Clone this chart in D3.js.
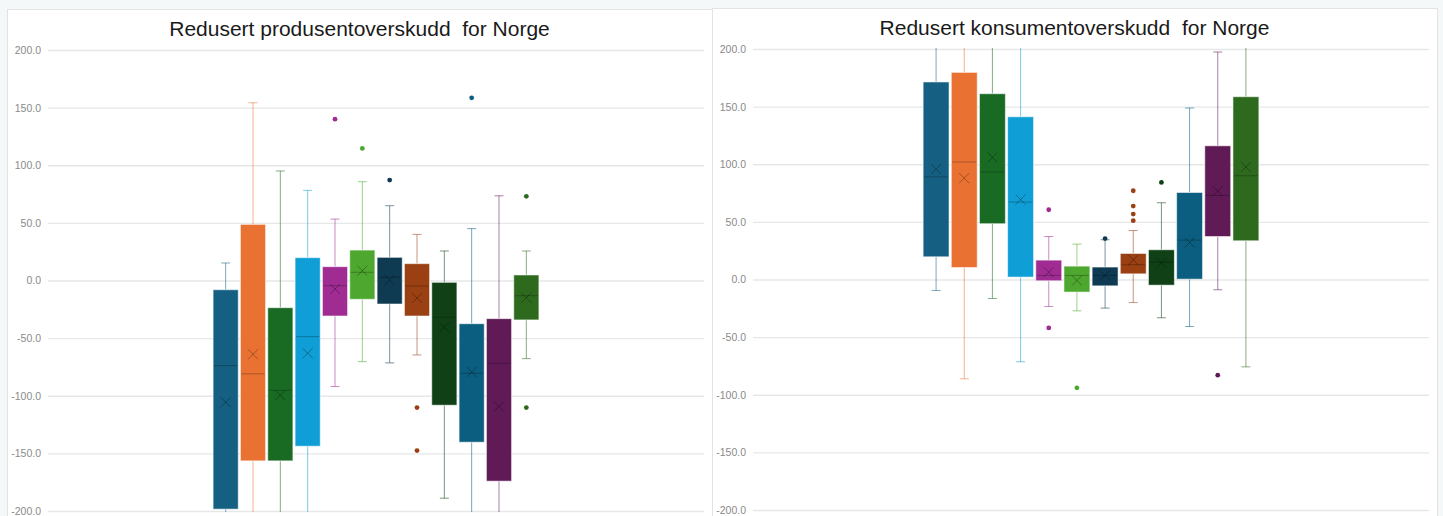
<!DOCTYPE html>
<html>
<head>
<meta charset="utf-8">
<script src="https://cdn.jsdelivr.net/npm/d3@7/dist/d3.min.js"></script>
<style>
  body { margin: 0; background: #f4f8f8; font-family: "Liberation Sans", Arial, sans-serif; }
  svg { display: block; }
</style>
</head>
<body>
<svg id="chart" width="1443" height="516"></svg>
<script>
// series (12 boxes per panel) and colours
var series = ["S1", "S2", "S3", "S4", "S5", "S6", "S7", "S8", "S9", "S10", "S11", "S12"];
var colors = ["#156082", "#e97132", "#196b24", "#0f9ed5", "#a02b93", "#4ea72e",
              "#0e3a52", "#9a4012", "#0f4016", "#0b5e80", "#601a56", "#2e6a1e"];
var yTicks = [-200, -150, -100, -50, 0, 50, 100, 150, 200];

// Redusert produsentoverskudd
var prodLow    = [-240, -240, -240, -240, -92, -70.4, -71.5, -64.6, -188.9, -240, -240, -67.8];
var prodQ1     = [-198.4, -156.5, -156.5, -143.8, -30.8, -16.3, -20.4, -30.8, -108.2, -140.3, -174.1, -34.2];
var prodMedian = [-73.9, -81, -95.2, -48.7, -4.5, 7.1, 2.8, -4.8, -31.9, -80.5, -71.8, -13.2];
var prodQ3     = [-8, 48.7, -23.6, 19.8, 12, 26.4, 20.1, 14.6, -1.6, -37.5, -33.1, 4.8];
var prodHigh   = [15.2, 154.2, 95, 78.2, 53.3, 85.7, 64.9, 40, 25.6, 45, 73.5, 25.6];
var prodMean   = [-105.6, -64, -99.5, -63.1, -7.4, 8.5, 0.4, -15.2, -40.6, -79.3, -109.4, -14.9];
var prodOutliers = [[], [], [], [], [140], [114.6], [87.1], [-110.3, -147.6], [], [158.5], [], [73, -110.3]];

// Redusert konsumentoverskudd
var konsLow    = [-9.5, -86.2, -16.5, -71.4, -23.4, -27.2, -24.8, -20, -33.2, -40.8, -8.9, -75.8];
var konsQ1     = [19.7, 10.4, 48.4, 2.1, -1.1, -10.9, -5.5, 4.9, -4.9, 0.3, 37.3, 33.6];
var konsMedian = [89.1, 101.9, 93.2, 67.2, 3.5, 3.5, 3.5, 12.8, 15.1, 34.2, 72.9, 90];
var konsQ3     = [171.4, 179.7, 161.2, 141.2, 16.8, 11.6, 10.8, 22.6, 25.8, 75.5, 116, 158.6];
var konsHigh   = [245, 245, 245, 245, 37.3, 30.7, 34.5, 42.5, 66.6, 148.8, 197.4, 245];
var konsMean   = [95.8, 88, 105.9, 69.4, 6.4, -0.9, 3.5, 17.1, 14.5, 32.1, 76.7, 97.6];
var konsOutliers = [[], [], [], [], [60.5, -42], [-94], [35.5], [77, 63.7, 56.8, 51], [84.2], [], [-83], []];

var fmt = d3.formatLocale({decimal: ".", thousands: ",", grouping: [3], currency: ["", ""], minus: "-"}).format(".1f");
var svg = d3.select("#chart");

function drawPanel(cfg, idx) {
    var g = svg.append("g");
    // panel background
    g.append("rect")
        .attr("x", cfg.px + 0.5).attr("y", cfg.py + 0.5)
        .attr("width", cfg.pw).attr("height", 560)
        .attr("fill", "#fff").attr("stroke", "#e2e4e4");

    g.append("text")
        .attr("x", cfg.px + cfg.pw / 2).attr("y", cfg.py + 27)
        .attr("text-anchor", "middle")
        .attr("font-size", 21).attr("fill", "#1a1a1a")
        .style("white-space", "pre")
        .text(cfg.title);

    var y = d3.scaleLinear().domain([-200, 200]).range([cfg.bottom, cfg.top]);
    var w = cfg.right - cfg.left;
    var x = d3.scaleBand().domain(series)
        .range([cfg.left + w * 0.25, cfg.right - w * 0.25])
        .paddingInner(0.08).paddingOuter(0.04);

    var axis = g.append("g")
        .attr("transform", "translate(" + cfg.left + ",0)")
        .call(d3.axisLeft(y).tickValues(yTicks).tickFormat(fmt).tickSize(-w).tickPadding(7));
    axis.select(".domain").remove();
    axis.selectAll(".tick line").attr("stroke", "#e6e7e7").attr("stroke-width", 1.3);
    axis.selectAll(".tick text").attr("fill", "#8a8a8a").attr("font-size", 10.5)
        .attr("font-family", "Liberation Sans, Arial, sans-serif");

    var clipId = "clip" + idx;
    g.append("clipPath").attr("id", clipId).append("rect")
        .attr("x", cfg.left).attr("y", cfg.top - 1)
        .attr("width", w).attr("height", cfg.bottom - cfg.top + 2);

    var plot = g.append("g").attr("clip-path", "url(#" + clipId + ")");
    var bw = x.bandwidth();

    series.forEach(function (s, i) {
        var cx = x(s) + bw / 2;
        var c = colors[i];
        var box = plot.append("g");
        // whisker lines
        box.append("line")
            .attr("x1", cx).attr("x2", cx)
            .attr("y1", y(cfg.high[i])).attr("y2", y(cfg.q3[i]))
            .attr("stroke", c).attr("stroke-opacity", 0.55);
        box.append("line")
            .attr("x1", cx).attr("x2", cx)
            .attr("y1", y(cfg.q1[i])).attr("y2", y(cfg.low[i]))
            .attr("stroke", c).attr("stroke-opacity", 0.55);
        [cfg.high[i], cfg.low[i]].forEach(function (v) {
            box.append("line")
                .attr("x1", cx - 4.5).attr("x2", cx + 4.5)
                .attr("y1", y(v)).attr("y2", y(v))
                .attr("stroke", c).attr("stroke-opacity", 0.55);
        });
        // box
        box.append("rect")
            .attr("x", x(s)).attr("width", bw)
            .attr("y", y(cfg.q3[i])).attr("height", y(cfg.q1[i]) - y(cfg.q3[i]))
            .attr("fill", c).attr("stroke", "#ffffff").attr("stroke-opacity", 0.55);
        // median
        box.append("line")
            .attr("x1", x(s) + 1).attr("x2", x(s) + bw - 1)
            .attr("y1", y(cfg.median[i])).attr("y2", y(cfg.median[i]))
            .attr("stroke", "#000").attr("stroke-opacity", 0.25);
        // mean marker
        var my = y(cfg.mean[i]);
        box.append("path")
            .attr("d", "M" + (cx - 5) + "," + (my - 5) + "L" + (cx + 5) + "," + (my + 5) +
                       "M" + (cx + 5) + "," + (my - 5) + "L" + (cx - 5) + "," + (my + 5))
            .attr("stroke", "#000").attr("stroke-opacity", 0.3).attr("fill", "none");
        // outliers
        box.selectAll("circle").data(cfg.outliers[i]).enter().append("circle")
            .attr("cx", cx).attr("cy", function (d) { return y(d); })
            .attr("r", 2.4).attr("fill", c);
    });
}

drawPanel({
    title: "Redusert produsentoverskudd  for Norge",
    px: 7, py: 9, pw: 705,
    left: 48, right: 704, top: 50, bottom: 511,
    low: prodLow, q1: prodQ1, median: prodMedian, q3: prodQ3, high: prodHigh,
    mean: prodMean, outliers: prodOutliers
}, 0);

drawPanel({
    title: "Redusert konsumentoverskudd  for Norge",
    px: 712, py: 8, pw: 725,
    left: 753, right: 1429, top: 49, bottom: 510,
    low: konsLow, q1: konsQ1, median: konsMedian, q3: konsQ3, high: konsHigh,
    mean: konsMean, outliers: konsOutliers
}, 1);
</script>
</body>
</html>
